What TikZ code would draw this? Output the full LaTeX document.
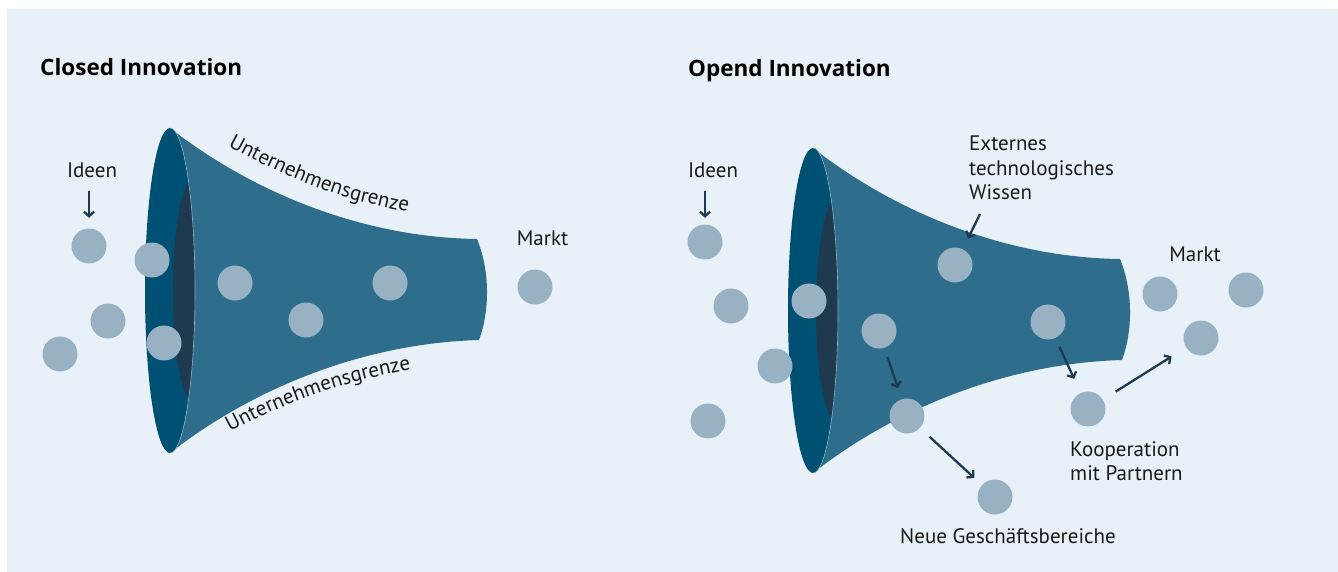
\documentclass[tikz,border=0pt]{standalone}
\usepackage{fontspec}
\setmainfont{PT Sans}
\newfontfamily\ttlfont{Open Sans}
\usetikzlibrary{arrows.meta,decorations.text}
\definecolor{bgc}{HTML}{E8F1F7}
\definecolor{bodyc}{HTML}{2E6E8C}
\definecolor{rimc}{HTML}{005073}
\definecolor{holec}{HTML}{1F3A4E}
\definecolor{dotc}{HTML}{98B2C4}
\definecolor{arrc}{HTML}{1E3A52}
\definecolor{txtc}{HTML}{1A1A1A}
\newcommand{\ArrTip}{Straight Barb[length=4.5pt,width=10pt]}
\newcommand{\grenzfont}{\fontsize{21}{24}\selectfont}
\newcommand{\Funnel}{%
\fill[bodyc](0,-162.5)..controls(80,-100)and(190,-53)..(307,-51.5)..controls(320,-20)and(320,20)..(309,49.5)..controls(190,53)and(80,100)..(0,162.5)arc(90:-90:25 and 162.5)--cycle;
\fill[rimc](0,0)ellipse(25 and 162.5);
\begin{scope}\clip(0,0)ellipse(25 and 162.5);\fill[holec](23,0)ellipse(20 and 110);\end{scope}
\draw[seam](0,162.5)arc(90:-90:25 and 162.5);}
\tikzset{dot/.style={circle,fill=dotc,minimum size=35pt,inner sep=0},
lbl/.style={text=txtc,inner sep=0,font=\fontsize{21}{24.5}\selectfont,align=left},
ttl/.style={text=black,inner sep=0,font=\ttlfont\bfseries\fontsize{22.5}{26}\selectfont},
arr/.style={draw=arrc,line width=2.3pt,-{\ArrTip}},
seam/.style={draw=bodyc!55!white,line width=.6pt}}

\begin{document}
\begin{tikzpicture}[x=1pt,y=-1pt]
\useasboundingbox(0,0)rectangle(1338,572);
\fill[bgc](7,9)rectangle(1338,572);
\begin{scope}[shift={(170,290.5)}]\Funnel\end{scope}
\begin{scope}[shift={(813,310.5)}]\Funnel\end{scope}
\path[decorate,decoration={text along path,text={|\grenzfont|Unternehmensgrenze},text color=txtc}](228,146)..controls(290,180)and(350,205)..(440,217);
\path[decorate,decoration={text along path,text={|\grenzfont|Unternehmensgrenze},text color=txtc}](230,432)..controls(290,400)and(350,378)..(440,365);
% closed
\node[ttl,anchor=base west](closed)at(40,76){Closed Innovation};
\node[lbl,anchor=base](ideen)at(92,178){Ideen};
\node[lbl,anchor=base](markt)at(542.5,245){Markt};
\node[dot](i1)at(89,246){};\node[dot](i2)at(108,321){};\node[dot](i3)at(60,354){};
\node[dot](r1)at(152,260){};\node[dot](r2)at(164,343){};
\node[dot](f1)at(235,283){};\node[dot](f2)at(306,320){};\node[dot](f3)at(390,283){};
\node[dot](m1)at(535,287){};
\coordinate(ia)at(89,191);
\draw[arr,shorten >=10.5pt](ia)--(i1);
% open
\node[ttl,anchor=base west](open)at(688,77){Opend Innovation};
\node[lbl,anchor=base](o-ideen)at(713,178){Ideen};
\node[lbl,anchor=base west](o-ext)at(969,200){Externes\\technologisches\\Wissen};
\node[lbl,anchor=base](o-markt)at(1195,261.7){Markt};
\node[lbl,anchor=base west](o-koop)at(1070,480.7){Kooperation\\mit Partnern};
\node[lbl,anchor=base west](o-neu)at(900,543){Neue Geschäftsbereiche};
\node[dot](o-i1)at(705,242){};\node[dot](o-i2)at(731,306){};\node[dot](o-i3)at(775,366){};\node[dot](o-i4)at(708,421){};
\node[dot](o-r1)at(809,301){};
\node[dot](o-f1)at(879,331){};\node[dot](o-f2)at(955,265){};\node[dot](o-f3)at(1048,322){};
\node[dot](o-n)at(907,416){};\node[dot](o-k)at(1088,409){};\node[dot](o-g)at(995,497){};
\node[dot](o-m1)at(1160,294){};\node[dot](o-m2)at(1246,290){};\node[dot](o-m3)at(1201,338){};
\coordinate(o-ia)at(705,191);\coordinate(o-ea)at(980,214);
\draw[arr,shorten >=6.5pt](o-ia)--(o-i1);
\draw[arr,shorten >=12pt](o-ea)--(o-f2);
\draw[arr,shorten <=9.5pt,shorten >=11.5pt](o-f1)--(o-n);
\draw[arr,shorten <=9.5pt,shorten >=15.5pt](o-f3)--(o-k);
\draw[arr,shorten <=13pt,shorten >=10.5pt](o-n)--(o-g);
\draw[arr,shorten <=15pt,shorten >=17pt](o-k)--(o-m3);
\end{tikzpicture}
\end{document}
